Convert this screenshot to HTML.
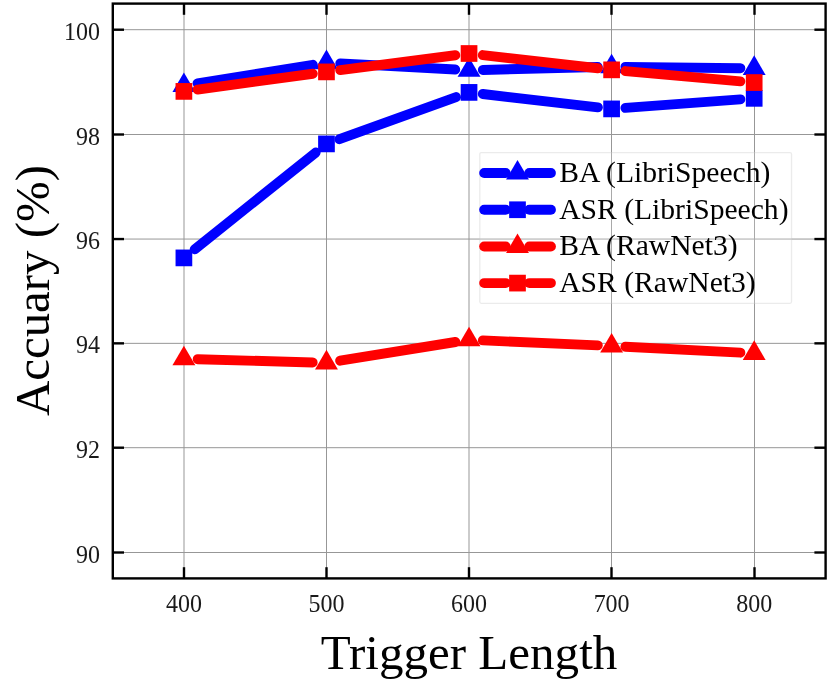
<!DOCTYPE html>
<html><head><meta charset="utf-8"><title>chart</title>
<style>
html,body{margin:0;padding:0;background:#fff;width:830px;height:683px;overflow:hidden}
.t{font-family:"Liberation Serif",serif;fill:#000}
.k{fill:#1a1a1a}
.tl{position:absolute;left:0;top:0;will-change:transform}
</style></head><body>
<svg width="830" height="683" viewBox="0 0 830 683" style="position:absolute;left:0;top:0">
<rect width="830" height="683" fill="#fff"/>
<line x1="184.00" y1="3.6" x2="184.00" y2="578.4" stroke="#979797" stroke-width="1.0"/>
<line x1="326.50" y1="3.6" x2="326.50" y2="578.4" stroke="#979797" stroke-width="1.0"/>
<line x1="469.00" y1="3.6" x2="469.00" y2="578.4" stroke="#979797" stroke-width="1.0"/>
<line x1="611.50" y1="3.6" x2="611.50" y2="578.4" stroke="#979797" stroke-width="1.0"/>
<line x1="754.50" y1="3.6" x2="754.50" y2="578.4" stroke="#979797" stroke-width="1.0"/>
<line x1="112.8" y1="552.50" x2="825.6" y2="552.50" stroke="#979797" stroke-width="1.0"/>
<line x1="112.8" y1="447.70" x2="825.6" y2="447.70" stroke="#979797" stroke-width="1.0"/>
<line x1="112.8" y1="343.35" x2="825.6" y2="343.35" stroke="#979797" stroke-width="1.0"/>
<line x1="112.8" y1="239.05" x2="825.6" y2="239.05" stroke="#979797" stroke-width="1.0"/>
<line x1="112.8" y1="134.50" x2="825.6" y2="134.50" stroke="#979797" stroke-width="1.0"/>
<line x1="112.8" y1="29.70" x2="825.6" y2="29.70" stroke="#979797" stroke-width="1.0"/>
<line x1="197.53" y1="83.31" x2="312.84" y2="64.79" stroke="#0000ff" stroke-width="9.9" stroke-linecap="round"/>
<line x1="340.25" y1="63.34" x2="455.26" y2="69.56" stroke="#0000ff" stroke-width="9.9" stroke-linecap="round"/>
<line x1="482.84" y1="69.95" x2="597.81" y2="67.05" stroke="#0000ff" stroke-width="9.9" stroke-linecap="round"/>
<line x1="625.41" y1="66.86" x2="740.38" y2="68.24" stroke="#0000ff" stroke-width="9.9" stroke-linecap="round"/>
<polygon points="183.90,72.43 172.45,92.03 195.35,92.03" fill="#0000ff"/>
<polygon points="326.47,49.53 315.02,69.13 337.92,69.13" fill="#0000ff"/>
<polygon points="469.04,57.23 457.59,76.83 480.49,76.83" fill="#0000ff"/>
<polygon points="611.61,53.63 600.16,73.23 623.06,73.23" fill="#0000ff"/>
<polygon points="754.18,55.33 742.73,74.93 765.63,74.93" fill="#0000ff"/>
<line x1="194.68" y1="249.28" x2="315.69" y2="152.52" stroke="#0000ff" stroke-width="9.9" stroke-linecap="round"/>
<line x1="339.45" y1="139.21" x2="456.06" y2="97.09" stroke="#0000ff" stroke-width="9.9" stroke-linecap="round"/>
<line x1="482.75" y1="93.99" x2="597.90" y2="107.31" stroke="#0000ff" stroke-width="9.9" stroke-linecap="round"/>
<line x1="625.37" y1="107.88" x2="740.42" y2="99.37" stroke="#0000ff" stroke-width="9.9" stroke-linecap="round"/>
<rect x="175.55" y="249.55" width="16.7" height="16.7" fill="#0000ff"/>
<rect x="318.12" y="135.55" width="16.7" height="16.7" fill="#0000ff"/>
<rect x="460.69" y="84.05" width="16.7" height="16.7" fill="#0000ff"/>
<rect x="603.26" y="100.55" width="16.7" height="16.7" fill="#0000ff"/>
<rect x="745.83" y="90.00" width="16.7" height="16.7" fill="#0000ff"/>
<line x1="197.69" y1="359.20" x2="312.68" y2="362.50" stroke="#ff0000" stroke-width="9.9" stroke-linecap="round"/>
<line x1="340.09" y1="360.69" x2="455.42" y2="342.01" stroke="#ff0000" stroke-width="9.9" stroke-linecap="round"/>
<line x1="482.83" y1="340.40" x2="597.82" y2="345.40" stroke="#ff0000" stroke-width="9.9" stroke-linecap="round"/>
<line x1="625.39" y1="346.72" x2="740.40" y2="352.68" stroke="#ff0000" stroke-width="9.9" stroke-linecap="round"/>
<polygon points="183.90,345.73 172.45,365.33 195.35,365.33" fill="#ff0000"/>
<polygon points="326.47,349.83 315.02,369.43 337.92,369.43" fill="#ff0000"/>
<polygon points="469.04,326.73 457.59,346.33 480.49,346.33" fill="#ff0000"/>
<polygon points="611.61,332.93 600.16,352.53 623.06,352.53" fill="#ff0000"/>
<polygon points="754.18,340.33 742.73,359.93 765.63,359.93" fill="#ff0000"/>
<line x1="197.57" y1="89.53" x2="312.80" y2="73.77" stroke="#ff0000" stroke-width="9.9" stroke-linecap="round"/>
<line x1="340.16" y1="70.13" x2="455.35" y2="55.27" stroke="#ff0000" stroke-width="9.9" stroke-linecap="round"/>
<line x1="482.75" y1="55.07" x2="597.90" y2="68.28" stroke="#ff0000" stroke-width="9.9" stroke-linecap="round"/>
<line x1="625.36" y1="71.07" x2="740.43" y2="81.33" stroke="#ff0000" stroke-width="9.9" stroke-linecap="round"/>
<rect x="175.55" y="83.05" width="16.7" height="16.7" fill="#ff0000"/>
<rect x="318.12" y="63.55" width="16.7" height="16.7" fill="#ff0000"/>
<rect x="460.69" y="45.15" width="16.7" height="16.7" fill="#ff0000"/>
<rect x="603.26" y="61.50" width="16.7" height="16.7" fill="#ff0000"/>
<rect x="745.83" y="74.20" width="16.7" height="16.7" fill="#ff0000"/>
<line x1="184.00" y1="3.6" x2="184.00" y2="14.799999999999999" stroke="#000" stroke-width="2.4"/>
<line x1="184.00" y1="578.4" x2="184.00" y2="567.1999999999999" stroke="#000" stroke-width="2.4"/>
<line x1="326.50" y1="3.6" x2="326.50" y2="14.799999999999999" stroke="#000" stroke-width="2.4"/>
<line x1="326.50" y1="578.4" x2="326.50" y2="567.1999999999999" stroke="#000" stroke-width="2.4"/>
<line x1="469.00" y1="3.6" x2="469.00" y2="14.799999999999999" stroke="#000" stroke-width="2.4"/>
<line x1="469.00" y1="578.4" x2="469.00" y2="567.1999999999999" stroke="#000" stroke-width="2.4"/>
<line x1="611.50" y1="3.6" x2="611.50" y2="14.799999999999999" stroke="#000" stroke-width="2.4"/>
<line x1="611.50" y1="578.4" x2="611.50" y2="567.1999999999999" stroke="#000" stroke-width="2.4"/>
<line x1="754.50" y1="3.6" x2="754.50" y2="14.799999999999999" stroke="#000" stroke-width="2.4"/>
<line x1="754.50" y1="578.4" x2="754.50" y2="567.1999999999999" stroke="#000" stroke-width="2.4"/>
<line x1="112.8" y1="552.50" x2="124.0" y2="552.50" stroke="#000" stroke-width="2.4"/>
<line x1="825.6" y1="552.50" x2="814.4" y2="552.50" stroke="#000" stroke-width="2.4"/>
<line x1="112.8" y1="447.70" x2="124.0" y2="447.70" stroke="#000" stroke-width="2.4"/>
<line x1="825.6" y1="447.70" x2="814.4" y2="447.70" stroke="#000" stroke-width="2.4"/>
<line x1="112.8" y1="343.35" x2="124.0" y2="343.35" stroke="#000" stroke-width="2.4"/>
<line x1="825.6" y1="343.35" x2="814.4" y2="343.35" stroke="#000" stroke-width="2.4"/>
<line x1="112.8" y1="239.05" x2="124.0" y2="239.05" stroke="#000" stroke-width="2.4"/>
<line x1="825.6" y1="239.05" x2="814.4" y2="239.05" stroke="#000" stroke-width="2.4"/>
<line x1="112.8" y1="134.50" x2="124.0" y2="134.50" stroke="#000" stroke-width="2.4"/>
<line x1="825.6" y1="134.50" x2="814.4" y2="134.50" stroke="#000" stroke-width="2.4"/>
<line x1="112.8" y1="29.70" x2="124.0" y2="29.70" stroke="#000" stroke-width="2.4"/>
<line x1="825.6" y1="29.70" x2="814.4" y2="29.70" stroke="#000" stroke-width="2.4"/>
<rect x="112.8" y="3.6" width="712.8000000000001" height="574.8" fill="none" stroke="#000" stroke-width="2.4"/>
<rect x="479.8" y="152.6" width="311.7" height="150.70000000000002" rx="1.5" fill="#fff" fill-opacity="0.18" stroke="#c8c8c8" stroke-opacity="0.36" stroke-width="1.3"/>
<line x1="484.15" y1="172.95" x2="505.7" y2="172.95" stroke="#0000ff" stroke-width="9.9" stroke-linecap="round"/>
<line x1="529.3" y1="172.95" x2="550.95" y2="172.95" stroke="#0000ff" stroke-width="9.9" stroke-linecap="round"/>
<polygon points="517.50,159.88 506.05,179.48 528.95,179.48" fill="#0000ff"/>
<line x1="484.15" y1="209.75" x2="505.7" y2="209.75" stroke="#0000ff" stroke-width="9.9" stroke-linecap="round"/>
<line x1="529.3" y1="209.75" x2="550.95" y2="209.75" stroke="#0000ff" stroke-width="9.9" stroke-linecap="round"/>
<rect x="509.15" y="201.40" width="16.7" height="16.7" fill="#0000ff"/>
<line x1="484.15" y1="246.45" x2="505.7" y2="246.45" stroke="#ff0000" stroke-width="9.9" stroke-linecap="round"/>
<line x1="529.3" y1="246.45" x2="550.95" y2="246.45" stroke="#ff0000" stroke-width="9.9" stroke-linecap="round"/>
<polygon points="517.50,233.38 506.05,252.98 528.95,252.98" fill="#ff0000"/>
<line x1="484.15" y1="283.1" x2="505.7" y2="283.1" stroke="#ff0000" stroke-width="9.9" stroke-linecap="round"/>
<line x1="529.3" y1="283.1" x2="550.95" y2="283.1" stroke="#ff0000" stroke-width="9.9" stroke-linecap="round"/>
<rect x="509.15" y="274.75" width="16.7" height="16.7" fill="#ff0000"/>
</svg>
<svg width="830" height="683" viewBox="0 0 830 683" class="tl"><text x="559.2" y="181.95" font-size="29.6" class="t">BA (LibriSpeech)</text>
<text x="559.2" y="218.75" font-size="29.6" class="t">ASR (LibriSpeech)</text>
<text x="559.2" y="255.45" font-size="29.6" class="t">BA (RawNet3)</text>
<text x="559.2" y="292.10" font-size="29.6" class="t">ASR (RawNet3)</text>
<text transform="translate(183.90,611.6) scale(1,1.04)" font-size="24" text-anchor="middle" class="t k">400</text>
<text transform="translate(326.47,611.6) scale(1,1.04)" font-size="24" text-anchor="middle" class="t k">500</text>
<text transform="translate(469.04,611.6) scale(1,1.04)" font-size="24" text-anchor="middle" class="t k">600</text>
<text transform="translate(611.61,611.6) scale(1,1.04)" font-size="24" text-anchor="middle" class="t k">700</text>
<text transform="translate(754.18,611.6) scale(1,1.04)" font-size="24" text-anchor="middle" class="t k">800</text>
<text transform="translate(99.9,562.60) scale(1,1.04)" font-size="24" text-anchor="end" class="t k">90</text>
<text transform="translate(99.9,457.80) scale(1,1.04)" font-size="24" text-anchor="end" class="t k">92</text>
<text transform="translate(99.9,353.45) scale(1,1.04)" font-size="24" text-anchor="end" class="t k">94</text>
<text transform="translate(99.9,249.15) scale(1,1.04)" font-size="24" text-anchor="end" class="t k">96</text>
<text transform="translate(99.9,144.60) scale(1,1.04)" font-size="24" text-anchor="end" class="t k">98</text>
<text transform="translate(99.9,39.80) scale(1,1.04)" font-size="24" text-anchor="end" class="t k">100</text>
<text x="469.0" y="669.2" font-size="48.7" textLength="296.6" lengthAdjust="spacingAndGlyphs" text-anchor="middle" class="t">Trigger Length</text>
<text transform="translate(48.5,290.5) rotate(-90)" font-size="48.9" text-anchor="middle" class="t">Accuary (%)</text></svg>
</body></html>
